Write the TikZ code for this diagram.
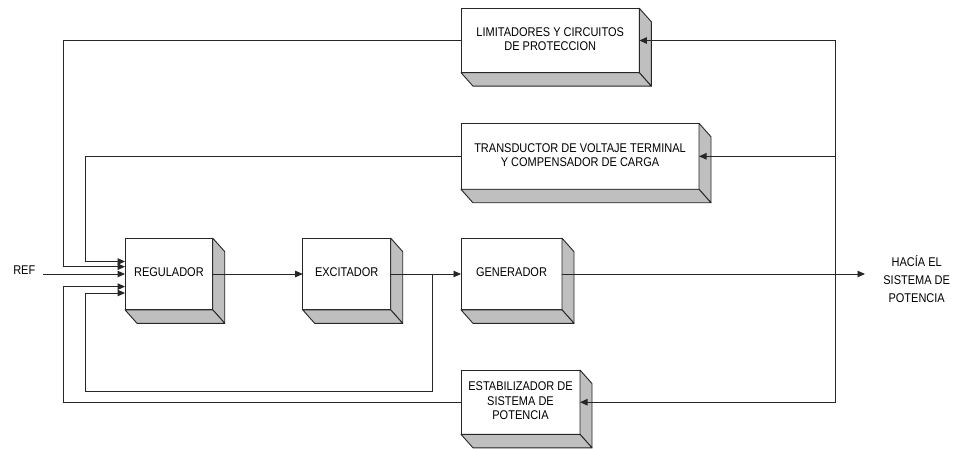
\documentclass[tikz,border=0pt]{standalone}
\usepackage{fontspec}
\setmainfont{Liberation Sans}
\usetikzlibrary{arrows.meta,calc}
\newcommand{\tx}[2][12.2]{\scalebox{1}[1.15]{\fontsize{11}{#1}\selectfont\begin{tabular}{@{}c@{}}#2\end{tabular}}}
\newcommand{\sides}[1]{%
  \filldraw[side] (#1.north east) -- ++(12,13.5) -- ($(#1.south east)+(12,13.5)$) -- (#1.south east) -- cycle;
  \filldraw[side] (#1.south west) -- ++(12,13.5) -- ($(#1.south east)+(12,13.5)$) -- (#1.south east) -- cycle;
}
\tikzset{
  blk/.style={draw=black!85, fill=white, line width=0.9pt, inner sep=0pt, outer sep=0pt},
  side/.style={fill=black!25, draw=black!85, line width=0.9pt, line join=round},
  ln/.style={draw=black!85, line width=0.9pt},
  arr/.style={ln, -{Triangle[length=7.5pt,width=6.5pt]}},
  lbl/.style={inner sep=0pt, outer sep=0pt}
}
\begin{document}
\begin{tikzpicture}[x=1pt,y=-1pt]
\useasboundingbox (0,0) rectangle (958,449);
% blocks
\node[blk, minimum width=87.7pt, minimum height=71.7pt] (reg) at (168.9,274) {\tx{REGULADOR}};
\node[blk, minimum width=88pt, minimum height=71.7pt] (exc) at (346.7,274) {\tx{EXCITADOR}};
\node[blk, minimum width=101pt, minimum height=71.7pt] (gen) at (511.5,274) {\tx{GENERADOR}};
\node[blk, minimum width=178.3pt, minimum height=64.4pt] (lim) at (550.2,40.5) {\tx{LIMITADORES Y CIRCUITOS\\DE PROTECCION}};
\node[blk, minimum width=238pt, minimum height=66pt] (tra) at (580,156.3) {\tx{TRANSDUCTOR DE VOLTAJE TERMINAL\\Y COMPENSADOR DE CARGA}};
\node[blk, minimum width=119pt, minimum height=64.3pt] (est) at (520.5,402.2) {\tx{ESTABILIZADOR DE\\SISTEMA DE\\POTENCIA}};
\sides{reg}\sides{exc}\sides{gen}\sides{lim}\sides{tra}\sides{est}
% labels
\node[lbl] (ref) at (24.3,272) {\tx{REF}};
\node[lbl] (out) at (916.7,281.3) {\tx[15.6]{HACÍA EL\\SISTEMA DE\\POTENCIA}};
% coordinates
\coordinate (refs) at ($(ref.east)+(7.5,0)$);
\coordinate (xa) at (63.3,0);
\coordinate (xb) at (85.7,0);
\coordinate (j) at (432.3,274);
\coordinate (fb) at (432.3,391.7);
\coordinate (rx) at (835.7,274);
\coordinate (outp) at (865,274);
\coordinate (iTra) at ($(reg.west)+(0,-12.5)$);
\coordinate (iLim) at ($(reg.west)+(0,-7.3)$);
\coordinate (iEst) at ($(reg.west)+(0,12.6)$);
\coordinate (iExc) at ($(reg.west)+(0,19)$);
% forward path
\draw[arr] (refs |- reg.west) -- (reg.west);
\draw[arr] (reg.east) -- (exc.west);
\draw[arr] (exc.east) -- (gen.west);
\draw[arr] (gen.east) -- (outp);
% right take-off
\draw[ln] (lim.east -| rx) -- (est.east -| rx);
\draw[arr] (lim.east -| rx) -- (lim.east);
\draw[arr] (tra.east -| rx) -- (tra.east);
\draw[arr] (est.east -| rx) -- (est.east);
% feedbacks to regulator
\draw[arr] (lim.west) -- (lim.west -| xa) |- (iLim);
\draw[arr] (tra.west) -- (tra.west -| xb) |- (iTra);
\draw[arr] (est.west) -- (est.west -| xa) |- (iEst);
\draw[arr] (j) -- (fb) -- (fb -| xb) |- (iExc);
\end{tikzpicture}
\end{document}
